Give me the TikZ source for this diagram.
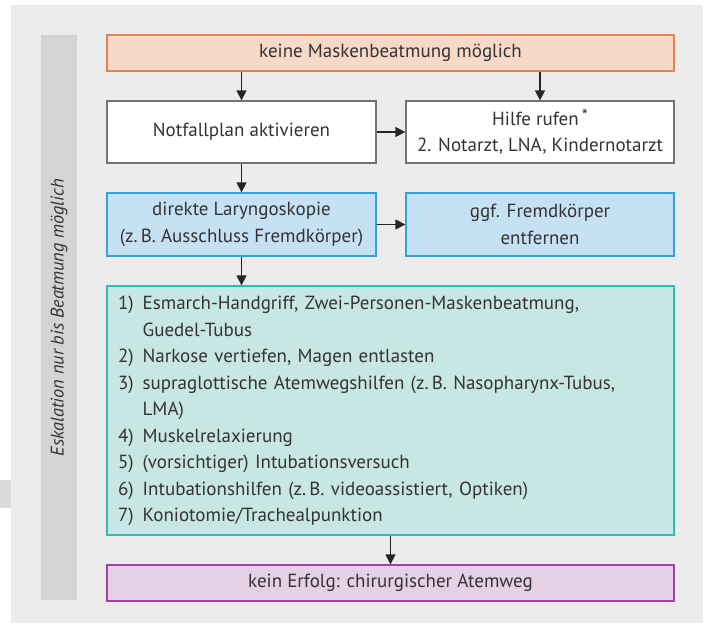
\documentclass[tikz,border=0pt]{standalone}
\usepackage{fontspec}
\setmainfont{PT Sans}
\usetikzlibrary{arrows.meta}
\definecolor{panelbg}{HTML}{EBECEB}
\definecolor{barbg}{HTML}{D3D4D5}
\definecolor{tabbg}{HTML}{DADBDC}
\definecolor{txt}{HTML}{333333}
\definecolor{orfill}{HTML}{F7D9C8}
\definecolor{ordraw}{HTML}{E8804F}
\definecolor{blfill}{HTML}{C7E1F4}
\definecolor{bldraw}{HTML}{2FA3E0}
\definecolor{grfill}{HTML}{C8E7E4}
\definecolor{grdraw}{HTML}{2EBFAE}
\definecolor{pufill}{HTML}{E6D0E6}
\definecolor{pudraw}{HTML}{A540A5}
\definecolor{wbdraw}{HTML}{737373}
\tikzset{
  box/.style={draw, line width=1.3pt, inner sep=0pt, align=center, text=txt,
    font=\fontsize{19}{26.5}\selectfont},
  orbox/.style={box, fill=orfill, draw=ordraw},
  wbox/.style={box, fill=white, draw=wbdraw},
  blbox/.style={box, fill=blfill, draw=bldraw},
  grbox/.style={box, fill=grfill, draw=grdraw},
  pubox/.style={box, fill=pufill, draw=pudraw},
  arr/.style={-{Triangle[length=10pt,width=10pt]}, line width=1.3pt, draw=black!85},
}
\begin{document}
\begin{tikzpicture}[x=1pt,y=-1pt]
\useasboundingbox (0,0) rectangle (707,625);
\fill[white] (0,0) rectangle (707,625);
\fill[panelbg] (11,5) rectangle (703,623);
\fill[tabbg] (0,480) rectangle (11,508);
\fill[barbg] (41,35) rectangle (77,600);
\node[rotate=90, text=txt, font=\fontsize{18.3}{20}\selectfont\itshape] (side) at (59,317.5) {Eskalation nur bis Beatmung möglich};

\node[orbox, minimum width=567, minimum height=36] (top) at (390.5,53) {keine Maskenbeatmung möglich};
\node[wbox, minimum width=269, minimum height=62] (notf) at (241.5,132) {Notfallplan aktivieren};
\node[wbox, minimum width=268, minimum height=62] (hilfe) at (540,132) {Hilfe rufen\,\raisebox{0.2em}{\fontsize{17}{17}\selectfont *}\\2. Notarzt, LNA, Kindernotarzt};
\node[blbox, minimum width=269, minimum height=63] (lar) at (241.5,224.5) {direkte Laryngoskopie\\(z.\,B. Ausschluss Fremdkörper)};
\node[blbox, minimum width=268, minimum height=63] (fremd) at (540,224.5) {ggf. Fremdkörper\\entfernen};
\node[grbox, minimum width=567, minimum height=249, text width=567pt, align=left] (green) at (390.5,410.5) {%
\begin{tabular}{@{\hspace{11pt}}l@{\hspace{9pt}}l@{}}
1) & Esmarch-Handgriff, Zwei-Personen-Maskenbeatmung,\\
   & Guedel-Tubus\\
2) & Narkose vertiefen, Magen entlasten\\
3) & supraglottische Atemwegshilfen (z.\,B. Nasopharynx-Tubus,\\
   & LMA)\\
4) & Muskelrelaxierung\\
5) & (vorsichtiger) Intubationsversuch\\
6) & Intubationshilfen (z.\,B. videoassistiert, Optiken)\\
7) & Koniotomie/Trachealpunktion
\end{tabular}};
\node[pubox, minimum width=567, minimum height=36] (purple) at (390.5,583) {kein Erfolg: chirurgischer Atemweg};

\draw[arr] (notf.north |- top.south) -- (notf.north);
\draw[arr] (hilfe.north |- top.south) -- (hilfe.north);
\draw[arr] (notf.east) -- (hilfe.west);
\draw[arr] (notf.south) -- (lar.north);
\draw[arr] (lar.east) -- (fremd.west);
\draw[arr] (lar.south) -- (lar.south |- green.north);
\draw[arr] (green.south) -- (purple.north);
\end{tikzpicture}
\end{document}
